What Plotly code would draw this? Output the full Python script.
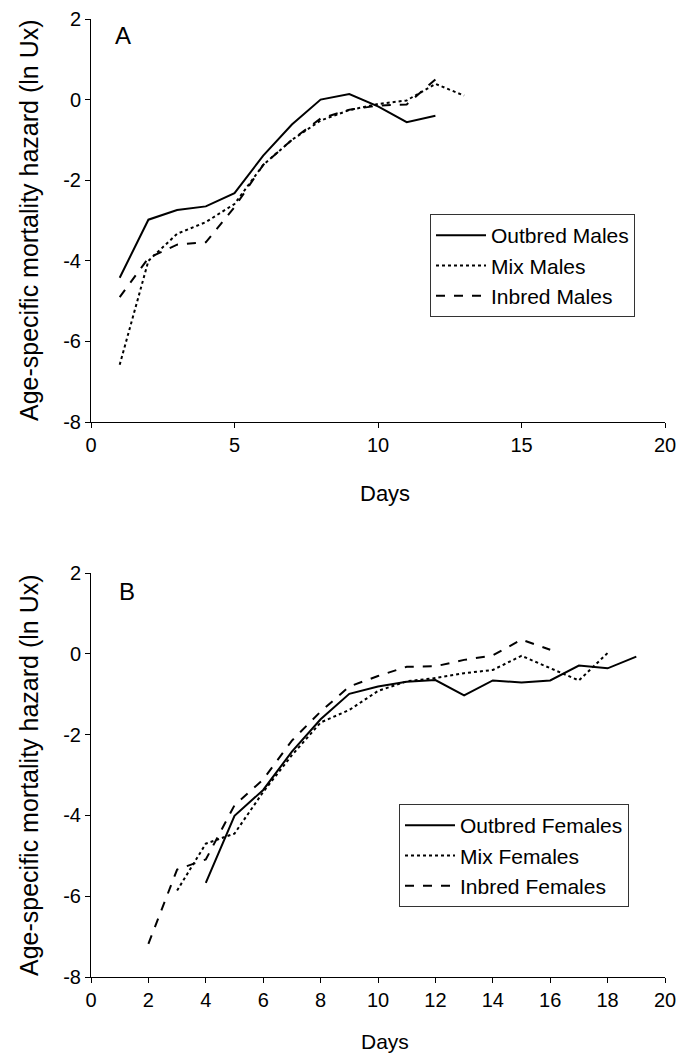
import plotly.graph_objects as go

# Panel A - males
days_a_out = [1, 2, 3, 4, 5, 6, 7, 8, 9, 10, 11, 12]
outbred_males = [-4.42, -2.98, -2.74, -2.65, -2.32, -1.39, -0.62, 0.0, 0.14, -0.17, -0.56, -0.40]
days_a_mix = [1, 2, 3, 4, 5, 6, 7, 8, 9, 10, 11, 12, 13]
mix_males = [-6.58, -4.0, -3.33, -3.04, -2.59, -1.62, -1.0, -0.52, -0.26, -0.11, -0.02, 0.39, 0.10]
days_a_inb = [1, 2, 3, 4, 5, 6, 7, 8, 9, 10, 11, 12]
inbred_males = [-4.9, -3.93, -3.6, -3.54, -2.67, -1.62, -1.0, -0.47, -0.25, -0.15, -0.12, 0.5]

# Panel B - females
days_b_out = [4, 5, 6, 7, 8, 9, 10, 11, 12, 13, 14, 15, 16, 17, 18, 19]
outbred_females = [-5.67, -4.01, -3.37, -2.42, -1.62, -0.99, -0.81, -0.69, -0.65, -1.03, -0.66, -0.71, -0.66, -0.29, -0.36, -0.07]
days_b_mix = [3, 4, 5, 6, 7, 8, 9, 10, 11, 12, 13, 14, 15, 16, 17, 18]
mix_females = [-5.86, -4.70, -4.45, -3.42, -2.51, -1.70, -1.39, -0.92, -0.68, -0.60, -0.48, -0.40, -0.05, -0.36, -0.66, 0.02]
days_b_inb = [2, 3, 4, 5, 6, 7, 8, 9, 10, 11, 12, 13, 14, 15, 16]
inbred_females = [-7.18, -5.34, -5.09, -3.75, -3.11, -2.15, -1.43, -0.81, -0.55, -0.32, -0.31, -0.15, -0.04, 0.35, 0.10]

y_ticks = [-8, -6, -4, -2, 0, 2]
y_tick_text = ["-8", "-6", "-4", "-2", "0", "2"]
x_ticks_a = [0, 5, 10, 15, 20]
x_ticks_b = [0, 2, 4, 6, 8, 10, 12, 14, 16, 18, 20]

y_title = "Age-specific mortality hazard (ln Ux)"
x_title = "Days"

FONT = "Liberation Sans, Arial, sans-serif"
OFF = 8  # default page body margin
W, H = 685 - 2 * OFF, 1064 - 2 * OFF
fig = go.Figure()


def px(x):
    return (x - OFF) / W


def py(y):
    return 1 - (y - OFF) / H


def add(x, y, name, dash, xa, ya, leg):
    fig.add_trace(go.Scatter(x=x, y=y, name=name, mode="lines",
                             line=dict(color="black", width=2, dash=dash),
                             xaxis=xa, yaxis=ya, legend=leg))


add(days_a_out, outbred_males, "Outbred Males", "solid", "x", "y", "legend")
add(days_a_mix, mix_males, "Mix Males", "dot", "x", "y", "legend")
add(days_a_inb, inbred_males, "Inbred Males", "dash", "x", "y", "legend")
add(days_b_out, outbred_females, "Outbred Females", "solid", "x2", "y2", "legend2")
add(days_b_mix, mix_females, "Mix Females", "dot", "x2", "y2", "legend2")
add(days_b_inb, inbred_females, "Inbred Females", "dash", "x2", "y2", "legend2")

axis_common = dict(showline=True, linecolor="black", linewidth=1, ticks="outside",
                   ticklen=5, tickcolor="black", showgrid=False, zeroline=False,
                   automargin=False,
                   tickfont=dict(family=FONT, size=20, color="black"))

xdom = [px(91), px(665)]
legend_common = dict(xanchor="left", yanchor="top", bordercolor="#333", borderwidth=1,
                     bgcolor="white", font=dict(family=FONT, size=21, color="black"),
                     tracegroupgap=0, itemwidth=50)


def ann(text, x, y, size, angle=0):
    return dict(text=text, x=px(x), y=py(y), xref="paper", yref="paper",
                showarrow=False, textangle=angle, xanchor="center", yanchor="middle",
                font=dict(family=FONT, size=size, color="black"))


fig.update_layout(
    width=W, height=H,
    margin=dict(l=0, r=0, t=0, b=0),
    plot_bgcolor="white", paper_bgcolor="white",
    font=dict(family=FONT, color="black"),
    xaxis=dict(domain=xdom, range=[0, 20], tickvals=x_ticks_a, anchor="y", **axis_common),
    yaxis=dict(domain=[py(422), py(19)], range=[-8, 2], tickvals=y_ticks,
               ticktext=y_tick_text, anchor="x", **axis_common),
    xaxis2=dict(domain=xdom, range=[0, 20], tickvals=x_ticks_b, anchor="y2", **axis_common),
    yaxis2=dict(domain=[py(977), py(573)], range=[-8, 2], tickvals=y_ticks,
                ticktext=y_tick_text, anchor="x2", **axis_common),
    legend=dict(x=px(430), y=py(214), **legend_common),
    legend2=dict(x=px(399), y=py(804), **legend_common),
    showlegend=True,
    annotations=[
        ann("A", 123, 36, 24),
        ann("B", 127, 591, 24),
        ann(y_title, 29, 220, 25, -90),
        ann(y_title, 29, 775, 25, -90),
        ann(x_title, 385, 493, 22),
        ann(x_title, 385, 1041, 21),
    ],
)

fig.write_html("out.html")
